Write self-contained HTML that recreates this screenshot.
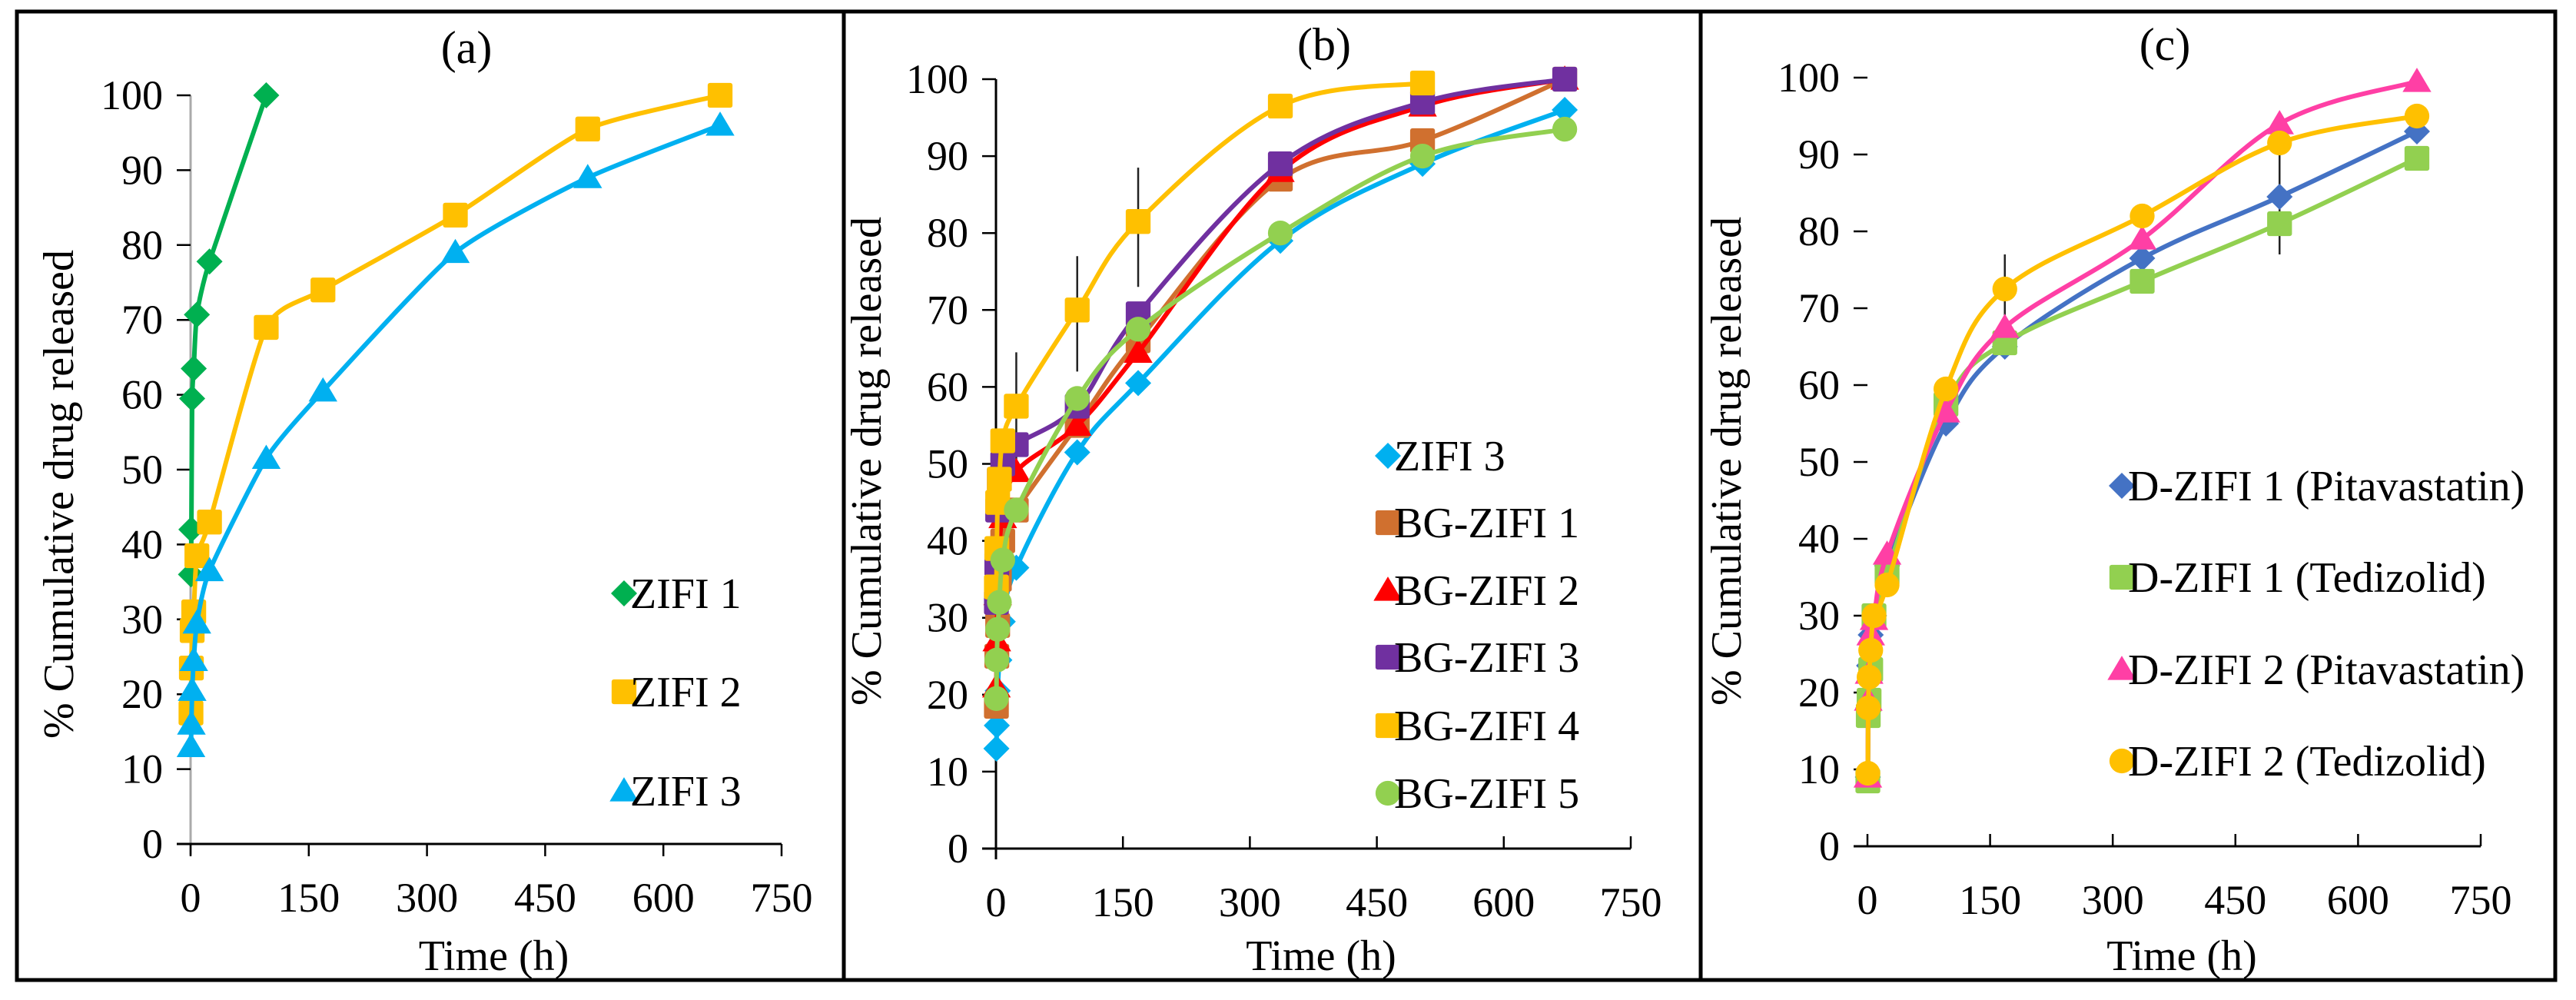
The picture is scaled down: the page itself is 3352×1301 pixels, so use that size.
<!DOCTYPE html>
<html><head><meta charset="utf-8">
<style>
html,body{margin:0;padding:0;background:#fff;}
svg{display:block;}
svg text{font-family:"Liberation Serif","DejaVu Serif",serif;}
</style></head>
<body>
<svg id="fig" width="3352" height="1301" viewBox="0 0 3352 1301" xmlns="http://www.w3.org/2000/svg">
<rect x="22" y="15" width="3303" height="1260" fill="none" stroke="#000" stroke-width="5"/>
<line x1="1098" y1="15" x2="1098" y2="1275" stroke="#000" stroke-width="5"/>
<line x1="2213" y1="15" x2="2213" y2="1275" stroke="#000" stroke-width="5"/>
</svg>
<script>
const xTicks = [0,150,300,450,600,750];
const yTicks = [0,10,20,30,40,50,60,70,80,90,100];
const times = [0.5,1,2,4,8,24,96,168,336,504,672];

// Panel (a)
const aNames = ["ZIFI 1","ZIFI 2","ZIFI 3"];
const aZ1 = [36,42,59.5,63.5,70.7,77.8,100];
const aZ2 = [17.5,23.5,28.5,31,38.5,43,69,74,84,95.5,100];
const aZ3 = [13,16,20.5,24.5,29.5,36.5,51.5,60.5,79,89,96];
// Panel (b)
const bNames = ["ZIFI 3","BG-ZIFI 1","BG-ZIFI 2","BG-ZIFI 3","BG-ZIFI 4","BG-ZIFI 5"];
const bZ3 = [13,16,20.5,24.5,29.5,36.5,51.5,60.5,79,89,96];
const bBG1 = [18.5,25,29,35,40,44,55,66,87,92,100];
const bBG2 = [21,27,33,39,43,49,55,64.5,88,96.5,100];
const bBG3 = [32,37,44,48,50,52.5,57.5,69.5,89,97,100];
const bBG4 = [34,39,45,48,53,57.5,70,81.5,96.5,99.5];
const bBG5 = [19.5,24.5,28.5,32,37.5,44,58.5,67.5,80,90,93.5];
const bErrX = [24,96,168];
const bErrLo = [50.5,62,73];
const bErrHi = [64.5,77,88.5];
// Panel (c)
const cNames = ["D-ZIFI 1 (Pitavastatin)","D-ZIFI 1 (Tedizolid)","D-ZIFI 2 (Pitavastatin)","D-ZIFI 2 (Tedizolid)"];
const cP1 = [9,18,23.5,27.5,30,36.5,55,65,76.5,84.5,93];
const cT1 = [8.5,17,19,23,30,35.5,57.5,65.5,73.5,81,89.5];
const cP2 = [9,19,22.5,27.5,29.5,38,56.5,67.5,79,94,99.5];
const cT2 = [9.5,18,22,25.5,30,34,59.5,72.5,82,91.5,95];
const cErrX = [168,504];
const cErrLo = [64,77];
const cErrHi = [77,91];

const NS = "http://www.w3.org/2000/svg";
const FONT = '"Liberation Serif","DejaVu Serif",serif';
const svg = document.getElementById('fig');
function mk(tag, attrs, parent){
  const e = document.createElementNS(NS, tag);
  for (const k in attrs) e.setAttribute(k, attrs[k]);
  if (tag==='text') e.setAttribute('font-family', FONT);
  (parent||svg).appendChild(e);
  return e;
}
function smoothPath(pts, t){
  if (pts.length < 2) return "";
  let d = `M${pts[0][0]},${pts[0][1]}`;
  for (let i=0;i<pts.length-1;i++){
    const p0 = pts[i-1]||pts[i], p1=pts[i], p2=pts[i+1], p3=pts[i+2]||pts[i+1];
    const c1=[p1[0]+(p2[0]-p0[0])*t, p1[1]+(p2[1]-p0[1])*t];
    const c2=[p2[0]-(p3[0]-p1[0])*t, p2[1]-(p3[1]-p1[1])*t];
    d += ` C${c1[0]},${c1[1]} ${c2[0]},${c2[1]} ${p2[0]},${p2[1]}`;
  }
  return d;
}
function marker(g, shape, x, y, color, s){
  let e;
  if (shape==='diamond') e = mk('polygon',{points:`${x},${y-s} ${x+s},${y} ${x},${y+s} ${x-s},${y}`,fill:color},g);
  else if (shape==='square') e = mk('rect',{x:x-s*0.95,y:y-s*0.95,width:s*1.9,height:s*1.9,rx:3,fill:color},g);
  else if (shape==='triangle') e = mk('polygon',{points:`${x},${y-s*1.05} ${x+s*1.1},${y+s*0.8} ${x-s*1.1},${y+s*0.8}`,fill:color},g);
  else e = mk('circle',{cx:x,cy:y,r:s*0.95,fill:color},g);
  
  
  return e;
}

function panel(cfg){
  const g = mk('g',{});
  
  
  const X = v => cfg.x0 + (v/750)*(cfg.x750-cfg.x0);
  const Y = v => cfg.y0 - (v/100)*(cfg.y0-cfg.y100);
  if (cfg.yAxisLine){
    const l = mk('line',{x1:X(0),y1:Y(0)+14,x2:X(0),y2:Y(100),stroke:cfg.yAxisColor,'stroke-width':3},g);
    
    
  }
  const xa = mk('line',{x1:X(0)-18,y1:Y(0),x2:X(750),y2:Y(0),stroke:'#000','stroke-width':3},g);
  
  
  yTicks.forEach(v=>{
    const t = mk('line',{x1:X(0)-18,y1:Y(v),x2:X(0),y2:Y(v),stroke:'#000','stroke-width':2.5},g);
    
    
    const lb = mk('text',{x:X(0)-36,y:Y(v)+18,'text-anchor':'end','font-size':54},g);
    lb.textContent = v;
    
    
  });
  xTicks.forEach(v=>{
    const t = mk('line',{x1:X(v),y1:Y(0),x2:X(v),y2:Y(0)+cfg.xTickDir*16,stroke:'#000','stroke-width':2.5},g);
    
    
    const lb = mk('text',{x:X(v),y:Y(0)+88,'text-anchor':'middle','font-size':54},g);
    lb.textContent = v;
    
    
  });
  const xt = mk('text',{x:(X(0)+X(750))/2+10,y:1262,'text-anchor':'middle','font-size':56},g);
  xt.textContent = 'Time (h)';
  
  
  const yt = mk('text',{x:0,y:0,'text-anchor':'middle','font-size':56,transform:`translate(${cfg.ylx},${cfg.yly}) rotate(-90)`},g);
  yt.textContent = '% Cumulative drug released';
  
  
  const tt = mk('text',{x:cfg.tx,y:cfg.ty+20,'text-anchor':'middle','font-size':60},g);
  tt.textContent = cfg.title;
  
  
  (cfg.errX||[]).forEach((xv,i)=>{
    const e = mk('line',{x1:X(xv),y1:Y(cfg.errLo[i]),x2:X(xv),y2:Y(cfg.errHi[i]),stroke:'#222','stroke-width':2.5},g);
    
    
  });
  cfg.series.forEach(s=>{
    const sg = mk('g',{},g);
    
    
    const pts = s.vals.map((v,i)=>[X(times[i]),Y(v)]);
    const p = mk('path',{d:smoothPath(pts,cfg.smooth),fill:'none',stroke:s.color,'stroke-width':6,'stroke-linejoin':'round'},sg);
    
    
    pts.forEach(pt=>marker(sg,s.shape,pt[0],pt[1],s.color,17));
  });
  cfg.series.forEach((s,i)=>{
    const lg = mk('g',{},g);
    
    
    const ly = cfg.legY[i];
    marker(lg,s.shape,cfg.legX,ly,s.color,17);
    const t = mk('text',{x:cfg.legX+8,y:ly+19,'font-size':56},lg);
    t.textContent = s.name;
    
    
  });
}

panel({id:'panel-a',title:'(a)',x0:248,x750:1017,y0:1098,y100:124,yAxisLine:true,yAxisColor:'#aaa',xTickDir:1,smooth:0.1,
  ylx:95,yly:643,tx:607,ty:62,legX:812,legY:[772,900,1029],
  series:[
    {name:aNames[0],vals:aZ1,color:'#00b050',shape:'diamond'},
    {name:aNames[1],vals:aZ2,color:'#ffc000',shape:'square'},
    {name:aNames[2],vals:aZ3,color:'#00b0f0',shape:'triangle'}]});

panel({id:'panel-b',title:'(b)',x0:1296,x750:2122,y0:1104,y100:103,yAxisLine:true,yAxisColor:'#000',xTickDir:-1,smooth:0.17,
  ylx:1146,yly:600,tx:1723,ty:58,legX:1806,legY:[593,680,768,855,944,1032],
  errX:bErrX,errLo:bErrLo,errHi:bErrHi,
  series:[
    {name:bNames[0],vals:bZ3,color:'#00b0f0',shape:'diamond'},
    {name:bNames[1],vals:bBG1,color:'#d0702f',shape:'square'},
    {name:bNames[2],vals:bBG2,color:'#ff0000',shape:'triangle'},
    {name:bNames[3],vals:bBG3,color:'#7030a0',shape:'square'},
    {name:bNames[4],vals:bBG4,color:'#ffc000',shape:'square'},
    {name:bNames[5],vals:bBG5,color:'#92d050',shape:'circle'}]});

panel({id:'panel-c',title:'(c)',x0:2430,x750:3228,y0:1101,y100:101,yAxisLine:false,yAxisColor:'#000',xTickDir:-1,smooth:0.17,
  ylx:2265,yly:600,tx:2817,ty:58,legX:2761,legY:[632,751,871,990],
  errX:cErrX,errLo:cErrLo,errHi:cErrHi,
  series:[
    {name:cNames[0],vals:cP1,color:'#4472c4',shape:'diamond'},
    {name:cNames[1],vals:cT1,color:'#92d050',shape:'square'},
    {name:cNames[2],vals:cP2,color:'#ff3fa5',shape:'triangle'},
    {name:cNames[3],vals:cT2,color:'#ffc000',shape:'circle'}]});
</script>
</body></html>
